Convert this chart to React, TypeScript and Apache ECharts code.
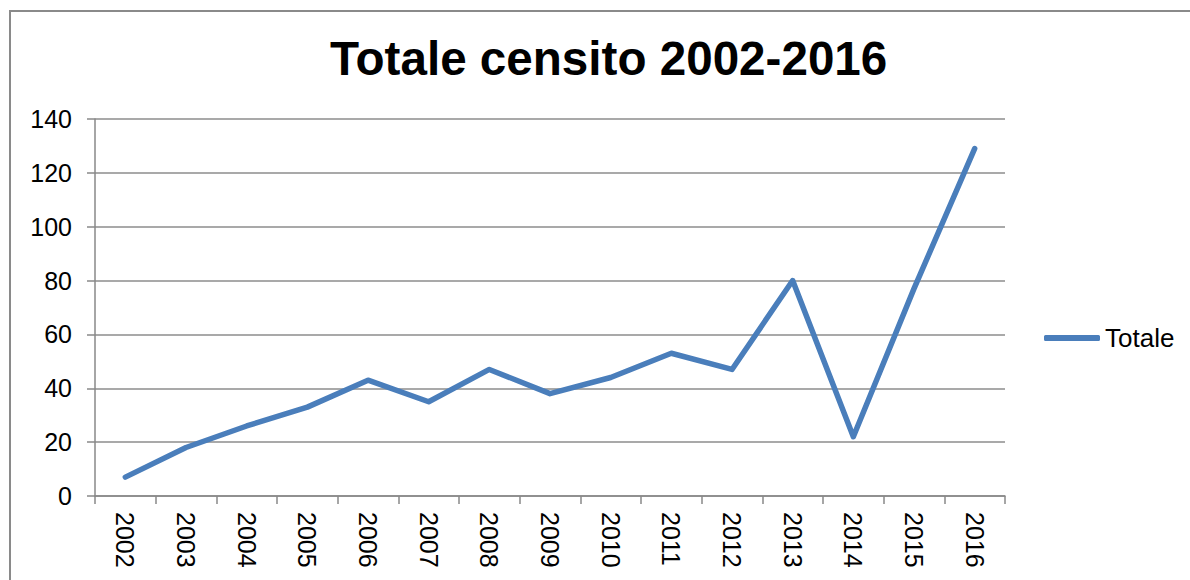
import React, { useEffect, useRef } from "react";
import * as echarts from "echarts";

const years = ["2002","2003","2004","2005","2006","2007","2008","2009","2010","2011","2012","2013","2014","2015","2016"];
const totale = [7, 18, 26, 33, 43, 35, 47, 38, 44, 53, 47, 80, 22, 77, 129];
const seriesName = "Totale";
const titleText = "Totale censito 2002-2016";

export default function App() {
  const ref = useRef<HTMLDivElement>(null);
  useEffect(() => {
    if (!ref.current) return;
    const chart = echarts.init(ref.current, null, { renderer: "svg" });
    const font = "'Liberation Sans', Arial, sans-serif";
    chart.setOption({
      animation: false,
      backgroundColor: "#ffffff",
      textStyle: { fontFamily: font },
      title: {
        text: titleText,
        left: 330,
        top: 34,
        padding: 0,
        textStyle: { fontFamily: font, fontSize: 47.6, fontWeight: "bold", color: "#000" },
      },
      graphic: [
        {
          type: "rect",
          shape: { x: 10, y: 11, width: 1300, height: 700 },
          style: { fill: "none", stroke: "#8a8a8a", lineWidth: 2 },
          silent: true,
        },
      ],
      legend: {
        left: 1044,
        top: 325,
        padding: 0,
        itemWidth: 56,
        itemHeight: 6,
        itemGap: 5,
        icon: "roundRect",
        data: [seriesName],
        textStyle: { fontFamily: font, fontSize: 26, color: "#000", padding: [0, 0, 0, 0] },
      },
      grid: { left: 95, right: 185, top: 119, bottom: 84, containLabel: false },
      xAxis: {
        type: "category",
        data: years,
        boundaryGap: true,
        axisLine: { show: true, lineStyle: { color: "#888", width: 1.5 } },
        axisTick: { show: true, alignWithLabel: false, length: 8, lineStyle: { color: "#888", width: 1.5 } },
        axisLabel: { rotate: -90, margin: 16, fontSize: 25, color: "#000", fontFamily: font, interval: 0 },
        splitLine: { show: false },
      },
      yAxis: {
        type: "value",
        min: 0,
        max: 140,
        interval: 20,
        axisLine: { show: true, lineStyle: { color: "#888", width: 1.5 } },
        axisTick: { show: true, length: 8, lineStyle: { color: "#888", width: 1.5 } },
        axisLabel: { margin: 23, fontSize: 25, color: "#000", fontFamily: font },
        splitLine: { show: true, lineStyle: { color: "#8c8c8c", width: 1.5 } },
      },
      series: [
        {
          name: seriesName,
          type: "line",
          data: totale,
          showSymbol: false,
          symbol: "none",
          color: "#4a7ebb",
          lineStyle: { color: "#4a7ebb", width: 5.5, cap: "round", join: "round" },
        },
      ],
    });
    return () => chart.dispose();
  }, []);
  return (
    <div
      ref={ref}
      style={{ position: "fixed", left: 0, top: 0, width: 1190, height: 580 }}
    />
  );
}
